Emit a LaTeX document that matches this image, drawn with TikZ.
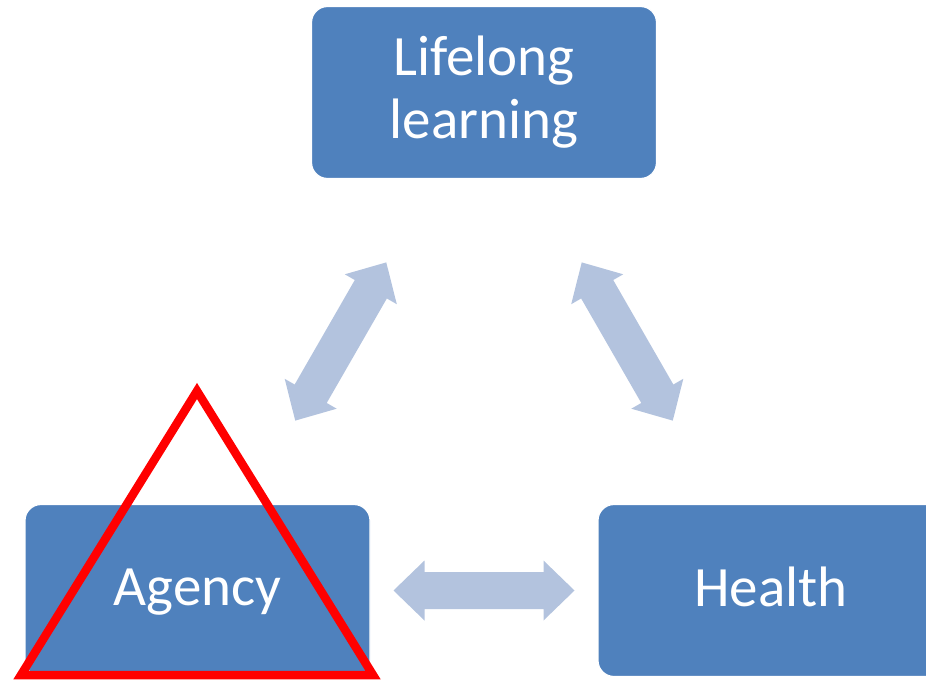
\documentclass[tikz,border=0pt]{standalone}
\usepackage{fontspec}
\setmainfont{Carlito}
\usetikzlibrary{calc}
\definecolor{boxblue}{RGB}{79,129,189}
\definecolor{arrowblue}{RGB}{179,195,222}
\definecolor{trired}{RGB}{255,0,0}
% double-headed block arrow between two named nodes, centred on the line joining them
\newcommand\blockdblarrow[2]{%
  \path ($(#1)!196pt!(#2)$) coordinate (tA)
        ($(#1)!227pt!(#2)$) coordinate (hA)
        ($(#2)!196pt!(#1)$) coordinate (tB)
        ($(#2)!227pt!(#1)$) coordinate (hB);
  \fill[linkfill] (tA) -- ($(hA)!30pt!90:(tB)$) -- ($(hA)!18.5pt!90:(tB)$)
    -- ($(hB)!18.5pt!-90:(tA)$) -- ($(hB)!30pt!-90:(tA)$) -- (tB)
    -- ($(hB)!30pt!90:(tA)$) -- ($(hB)!18.5pt!90:(tA)$)
    -- ($(hA)!18.5pt!-90:(tB)$) -- ($(hA)!30pt!-90:(tB)$) -- cycle;}
\begin{document}
\begin{tikzpicture}[x=1pt,y=-1pt,
  box/.style={fill=boxblue, draw=white, line width=1.2pt, rounded corners=16pt,
    minimum width=345pt, minimum height=172pt, inner sep=0pt, outer sep=0pt},
  lbl/.style={text=white, font=\fontsize{57}{63}\selectfont, align=center, inner sep=0pt},
  linkfill/.style={fill=arrowblue},
  tri/.style={draw=trired, line width=8.5pt, line join=miter}]
\useasboundingbox (0,0) rectangle (926,680);
\clip (0,0) rectangle (926,680);
\node[box] (lifelong) at (484,92.5) {};
\node[box] (agency) at (197.5,590.5) {};
\node[box] (health) at (770.5,590.5) {};
\node[lbl, anchor=base] (lifelongtext) at (484,138) {Lifelong\\learning};
\node[lbl, anchor=base] (agencytext) at (197.5,605) {Agency};
\node[lbl, anchor=base] (healthtext) at (771,606) {Health};
\blockdblarrow{agency.center}{lifelong.center}
\blockdblarrow{health.center}{lifelong.center}
\blockdblarrow{agency.center}{health.center}
\draw[tri] (197,391) -- (21,675) -- (373,675) -- cycle;
\end{tikzpicture}
\end{document}
